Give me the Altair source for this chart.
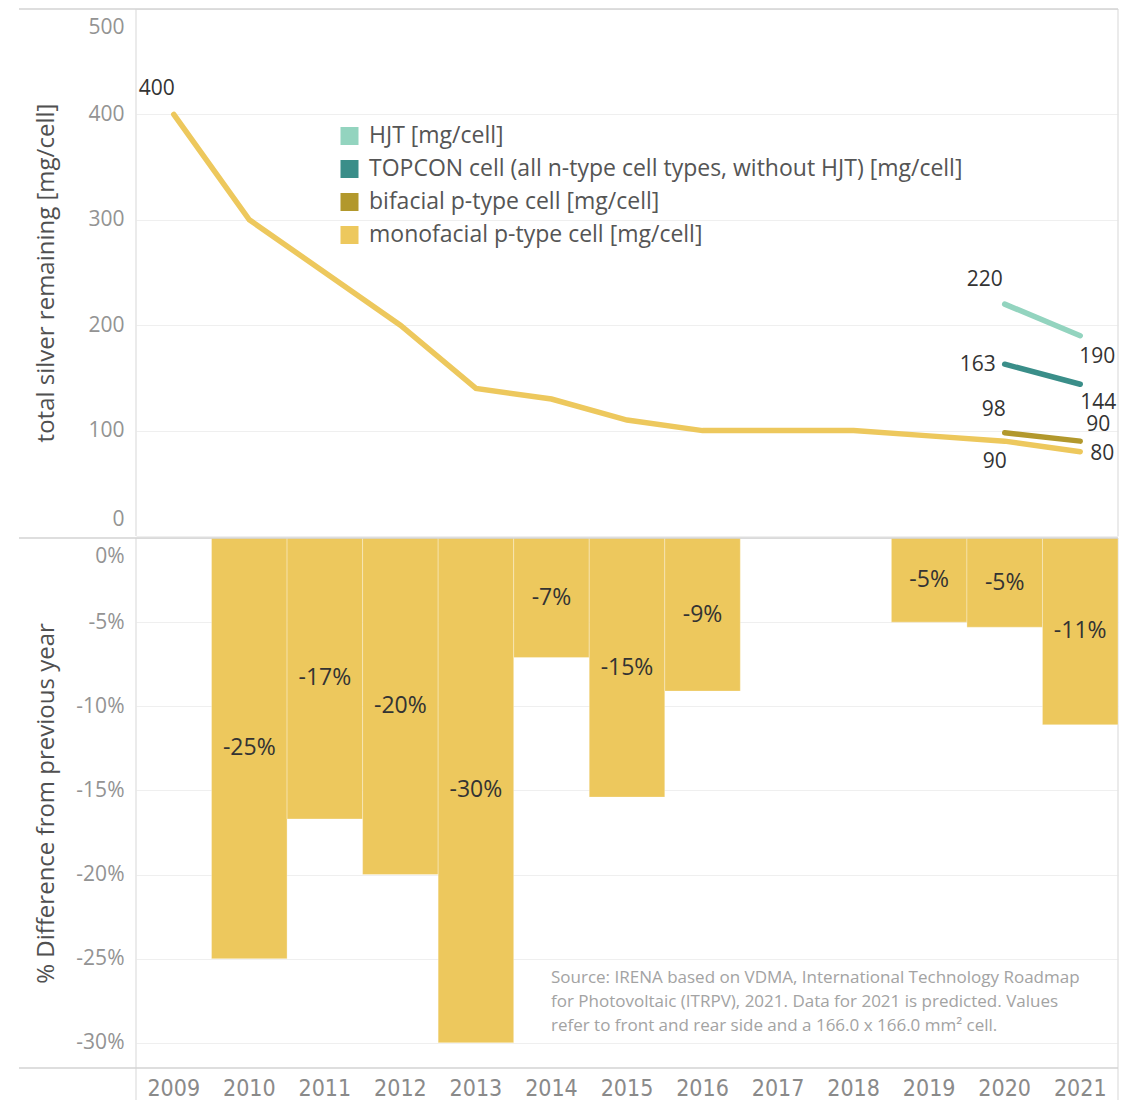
import altair as alt
import pandas as pd

# ---------------- data ----------------
years = ["2009", "2010", "2011", "2012", "2013", "2014", "2015", "2016",
         "2017", "2018", "2019", "2020", "2021"]
mono_values = [400, 300, 250, 200, 140, 130, 110, 100, 100, 100, 95, 90, 80]
new_years = ["2020", "2021"]
bifacial_values = [98, 90]
topcon_values = [163, 144]
hjt_values = [220, 190]

pct_years = ["2010", "2011", "2012", "2013", "2014", "2015", "2016",
             "2019", "2020", "2021"]
pct_values = [-25.0, -16.7, -20.0, -30.0, -7.1, -15.4, -9.1, -5.0, -5.3, -11.1]

S_HJT = "HJT [mg/cell]"
S_TOP = "TOPCON cell (all n-type cell types, without HJT) [mg/cell]"
S_BIF = "bifacial p-type cell [mg/cell]"
S_MONO = "monofacial p-type cell [mg/cell]"
series_order = [S_HJT, S_TOP, S_BIF, S_MONO]
series_colors = ["#93D4BF", "#3A8E89", "#B2982C", "#EDC85D"]

source_lines = [
    "Source: IRENA based on VDMA, International Technology Roadmap",
    "for Photovoltaic (ITRPV), 2021.  Data for 2021 is predicted. Values",
    "refer to front and rear side and a  166.0 x 166.0 mm\u00b2 cell.",
]

rows = []
for y, v in zip(years, mono_values):
    rows.append({"Year": y, "Series": S_MONO, "Value": v})
for y, v in zip(new_years, bifacial_values):
    rows.append({"Year": y, "Series": S_BIF, "Value": v})
for y, v in zip(new_years, topcon_values):
    rows.append({"Year": y, "Series": S_TOP, "Value": v})
for y, v in zip(new_years, hjt_values):
    rows.append({"Year": y, "Series": S_HJT, "Value": v})
lines_df = pd.DataFrame(rows)
pct_df = pd.DataFrame({"Year": pct_years, "Pct": pct_values})
one = pd.DataFrame({"a": [0]})

# ---------------- layout constants ----------------
W = 982
H_TOP = 527
H_BOT = 530
FONT = "Open Sans"
EXT = 72
LEFT_RULE = -117
SEP_COLOR = "#d3d3d3"
EDGE_COLOR = "#e4e4e4"

x_scale = alt.Scale(domain=years, paddingInner=0, paddingOuter=0)

# ---------------- top panel ----------------
base_top = alt.Chart(lines_df)

lines = base_top.mark_line(strokeWidth=5.5, strokeCap="round").encode(
    x=alt.X("Year:N", scale=x_scale, axis=None),
    y=alt.Y("Value:Q",
            scale=alt.Scale(domain=[0, 500], nice=False, zero=True),
            axis=alt.Axis(values=[0, 100, 200, 300, 400, 500],
                          title="total silver remaining [mg/cell]",
                          labelFlush=True, labelFlushOffset=-7,
                          minExtent=EXT, maxExtent=EXT,
                          titlePadding=6, labelPadding=12)),
    color=alt.Color("Series:N",
                    scale=alt.Scale(domain=series_order, range=series_colors),
                    legend=alt.Legend(orient="none", legendX=202, legendY=114,
                                      title=None, symbolType="square",
                                      symbolSize=36, symbolStrokeWidth=12,
                                      labelFontSize=23, labelColor="#555555",
                                      labelFont=FONT, labelOffset=8,
                                      clipHeight=26, rowPadding=7, padding=0,
                                      labelLimit=900)),
    detail="Series:N",
)

label_specs = [
    (S_MONO, "2009", -17, -25),
    (S_MONO, "2020", -10, 21),
    (S_MONO, "2021", 22, 2),
    (S_BIF, "2020", -11, -23),
    (S_BIF, "2021", 18, -16),
    (S_TOP, "2020", -27, 1),
    (S_TOP, "2021", 18, 19),
    (S_HJT, "2020", -20, -24),
    (S_HJT, "2021", 17, 21),
]
label_layers = []
for s, yr, dx, dy in label_specs:
    label_layers.append(
        base_top.transform_filter(
            (alt.datum.Series == s) & (alt.datum.Year == yr)
        ).mark_text(fontSize=21, font=FONT, color="#333333", dx=dx, dy=dy,
                    align="center", baseline="middle").encode(
            x=alt.X("Year:N", scale=x_scale, axis=None),
            y="Value:Q",
            text="Value:Q",
        )
    )

top_border = alt.Chart(one).mark_rule(color=SEP_COLOR, strokeWidth=1.5).encode(
    x=alt.value(LEFT_RULE), x2=alt.value(W), y=alt.value(0))
top_left = alt.Chart(one).mark_rule(color=EDGE_COLOR, strokeWidth=1.5).encode(
    x=alt.value(0), y=alt.value(0), y2=alt.value(H_TOP))
top_right = alt.Chart(one).mark_rule(color=EDGE_COLOR, strokeWidth=1.5).encode(
    x=alt.value(W), y=alt.value(0), y2=alt.value(H_TOP))

top = alt.layer(top_left, top_right, top_border, lines, *label_layers).properties(
    width=W, height=H_TOP)

# ---------------- bottom panel ----------------
base_bot = alt.Chart(pct_df)
bars = base_bot.mark_bar(color="#EDC85D", stroke="#ffffff", strokeWidth=0.6,
                         strokeOpacity=0.5).encode(
    x=alt.X("Year:N", scale=x_scale,
            axis=alt.Axis(title=None, labelAngle=0, ticks=False, domain=False,
                          labelFontSize=23,
                          labelFont="Liberation Sans Narrow, DejaVu Sans Condensed, sans-serif",
                          labelColor="#8a8a8a", labelPadding=9)),
    y=alt.Y("Pct:Q",
            scale=alt.Scale(domain=[-31.5, 0], nice=False, zero=False),
            axis=alt.Axis(values=[0, -5, -10, -15, -20, -25, -30],
                          labelExpr="datum.value + '%'",
                          title="% Difference from previous year",
                          labelFlush=True, labelFlushOffset=-7,
                          minExtent=EXT, maxExtent=EXT,
                          titlePadding=6, labelPadding=12)),
)
bar_text = base_bot.transform_calculate(
    lbl="round(datum.Pct) + '%'",
    mid="datum.Pct / 2",
).mark_text(fontSize=23, font=FONT, color="#333333", align="center",
            baseline="middle").encode(
    x=alt.X("Year:N", scale=x_scale),
    y="mid:Q",
    text="lbl:N",
)
source = alt.Chart(one).mark_text(
    text=source_lines, align="left", baseline="middle", fontSize=17,
    lineHeight=24, font=FONT, color="#a3a3a3").encode(
    x=alt.value(415), y=alt.value(440))

bot_top = alt.Chart(one).mark_rule(color=SEP_COLOR, strokeWidth=1.5).encode(
    x=alt.value(LEFT_RULE), x2=alt.value(W), y=alt.value(0))
bot_bottom = alt.Chart(one).mark_rule(color=SEP_COLOR, strokeWidth=1.5).encode(
    x=alt.value(LEFT_RULE), x2=alt.value(W), y=alt.value(H_BOT))
bot_left = alt.Chart(one).mark_rule(color=EDGE_COLOR, strokeWidth=1.5).encode(
    x=alt.value(0), y=alt.value(0), y2=alt.value(H_BOT + 32))
bot_right = alt.Chart(one).mark_rule(color=EDGE_COLOR, strokeWidth=1.5).encode(
    x=alt.value(W), y=alt.value(0), y2=alt.value(H_BOT + 32))

bottom = alt.layer(bot_left, bot_right, bars, bar_text, source, bot_top,
                   bot_bottom).properties(width=W, height=H_BOT)

chart = alt.vconcat(top, bottom, spacing=0).properties(
    padding={"left": 10, "top": 0, "right": 5, "bottom": 0}
).configure_view(stroke=None).configure_axis(
    grid=True, gridColor="#efefef", gridWidth=1, domain=False, ticks=False,
    labelFont=FONT, labelFontSize=21, labelColor="#939393",
    titleFont=FONT, titleFontSize=24, titleColor="#505050",
    titleFontWeight="normal",
).configure_axisX(grid=False)

chart.save("out.html", embed_options={"renderer": "svg", "actions": False})
